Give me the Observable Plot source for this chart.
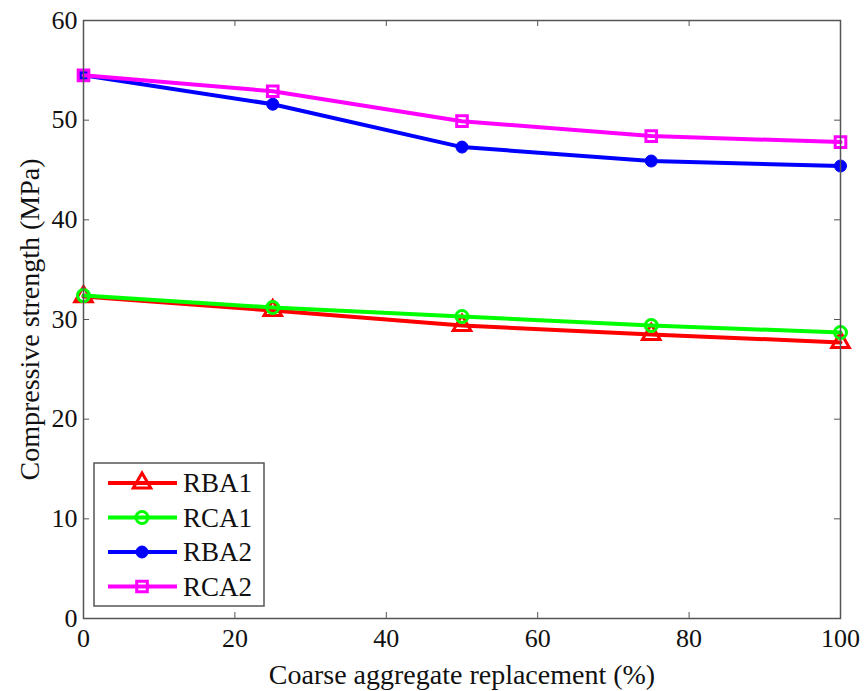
<!DOCTYPE html>
<html>
<head>
<meta charset="utf-8">
<script src="https://cdn.jsdelivr.net/npm/d3@7"></script>
<script src="https://cdn.jsdelivr.net/npm/@observablehq/plot@0.6"></script>
<style>
  html, body { margin: 0; padding: 0; background: #fff; }
  #chart { position: relative; width: 864px; height: 691px; }
</style>
</head>
<body>
<div id="chart"></div>
<script>
// Coarse aggregate replacement ratio (%)
const replacement = [0, 25, 50, 75, 100];
// Compressive strength (MPa) per mix series
const rba1 = [32.3, 30.9, 29.4, 28.5, 27.7];
const rca1 = [32.4, 31.2, 30.3, 29.4, 28.7];
const rba2 = [54.5, 51.6, 47.3, 45.9, 45.4];
const rca2 = [54.5, 52.9, 49.9, 48.4, 47.8];

const seriesNames = ["RBA1", "RCA1", "RBA2", "RCA2"];
const seriesValues = [rba1, rca1, rba2, rca2];
const seriesColors = ["#ff0000", "#00ff00", "#0000ff", "#ff00ff"];

const xTicks = [0, 20, 40, 60, 80, 100];
const yTicks = [0, 10, 20, 30, 40, 50, 60];
const xLabel = "Coarse aggregate replacement (%)";
const yLabel = "Compressive strength (MPa)";

const FONT = "'Liberation Serif', 'Times New Roman', serif";
const W = 864, H = 691;
const mL = 83, mR = 24, mT = 20, mB = 73;
const innerW = W - mL - mR, innerH = H - mT - mB;
const TICK = 6;
const axisGray = "#555";
const textColor = "#111";

const rows = seriesNames.flatMap((name, i) =>
  replacement.map((r, j) => ({series: name, x: r, y: seriesValues[i][j]}))
);
const bySeries = name => rows.filter(d => d.series === name);

// marker style for each series
const markerOpts = {
  RBA1: {symbol: "triangle", r: 6.5, fill: "none", stroke: "#ff0000", strokeWidth: 3},
  RCA1: {symbol: "circle", r: 6, fill: "none", stroke: "#00ff00", strokeWidth: 3},
  RBA2: {symbol: "circle", r: 6, fill: "#0000ff", stroke: "#0000ff", strokeWidth: 1},
  RCA2: {symbol: "square", r: 6, fill: "none", stroke: "#ff00ff", strokeWidth: 3}
};

const marks = [
  // inward ticks on all four sides of the box
  Plot.tickX(xTicks, {x: d => d, insetTop: innerH - TICK, stroke: axisGray, strokeWidth: 1}),
  Plot.tickX(xTicks, {x: d => d, insetBottom: innerH - TICK, stroke: axisGray, strokeWidth: 1}),
  Plot.tickY(yTicks, {y: d => d, insetRight: innerW - TICK, stroke: axisGray, strokeWidth: 1}),
  Plot.tickY(yTicks, {y: d => d, insetLeft: innerW - TICK, stroke: axisGray, strokeWidth: 1}),
  Plot.axisX({ticks: xTicks, tickSize: 0, tickPadding: 10, fontSize: 26, fill: textColor, label: null}),
  Plot.axisY({ticks: yTicks, tickSize: 0, tickPadding: 6, fontSize: 26, fill: textColor, label: null}),
  // axis titles
  Plot.text([xLabel], {text: d => d, frameAnchor: "bottom", dy: 57, textAnchor: "middle", lineAnchor: "middle", fontSize: 28, fill: textColor}),
  Plot.text([yLabel], {text: d => d, frameAnchor: "left", dx: -53, rotate: -90, textAnchor: "middle", lineAnchor: "middle", fontSize: 28, fill: textColor})
];

seriesNames.forEach((name, i) => {
  marks.push(Plot.line(bySeries(name), {x: "x", y: "y", stroke: seriesColors[i], strokeWidth: 4}));
  marks.push(Plot.dot(bySeries(name), {x: "x", y: "y", ...markerOpts[name]}));
});
marks.push(Plot.frame({stroke: axisGray, strokeWidth: 1.5}));

const chart = Plot.plot({
  width: W, height: H,
  marginLeft: mL, marginRight: mR, marginTop: mT, marginBottom: mB,
  x: {domain: [0, 100]},
  y: {domain: [0, 60]},
  style: {fontFamily: FONT, fontSize: "26px", color: textColor, background: "#fff"},
  marks
});

document.getElementById("chart").appendChild(chart);

// legend box in the lower-left of the plotting area
const svg = d3.select(chart);
const lg = svg.append("g").attr("transform", `translate(${mL + 11},${mT + 443})`);
lg.append("rect").attr("width", 170).attr("height", 143)
  .attr("fill", "#fff").attr("stroke", axisGray).attr("stroke-width", 1.5);
const symbolTypes = {triangle: d3.symbolTriangle, circle: d3.symbolCircle, square: d3.symbolSquare};
seriesNames.forEach((name, i) => {
  const cy = 20 + i * 34.5;
  const g = lg.append("g").attr("transform", `translate(0,${cy})`);
  g.append("line").attr("x1", 14).attr("x2", 83).attr("stroke", seriesColors[i]).attr("stroke-width", 4);
  const m = markerOpts[name];
  g.append("path")
    .attr("transform", "translate(48,0)")
    .attr("d", d3.symbol(symbolTypes[m.symbol], Math.PI * m.r * m.r)())
    .attr("fill", m.fill)
    .attr("stroke", m.stroke).attr("stroke-width", m.strokeWidth);
  g.append("text").attr("x", 89).attr("y", 0).attr("dy", "0.35em")
    .attr("text-anchor", "start")
    .attr("font-family", FONT).attr("font-size", 27).attr("fill", textColor)
    .text(name);
});
</script>
</body>
</html>
